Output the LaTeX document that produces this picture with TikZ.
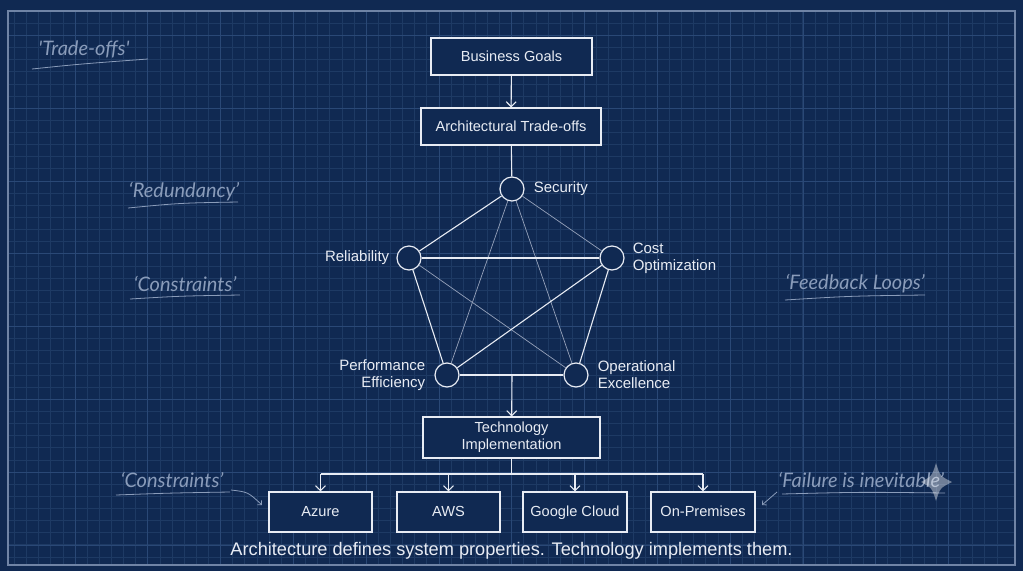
\documentclass[tikz,border=0pt]{standalone}
\usepackage{fontspec}
\setmainfont{Liberation Sans}
\newfontfamily\handfont{Lato}
\usetikzlibrary{arrows.meta,positioning}

\definecolor{bpbg}{RGB}{16,41,82}
\definecolor{bpgrid}{RGB}{30,58,100}
\definecolor{bpmajor}{RGB}{42,72,118}
\definecolor{bpframe}{RGB}{112,132,166}
\definecolor{bpink}{RGB}{232,236,244}
\definecolor{bpthin}{RGB}{150,162,186}
\definecolor{bpnote}{RGB}{138,156,186}

\begin{document}
\begin{tikzpicture}[x=1pt, y=-1pt,
	>={Straight Barb[length=5pt,width=10pt]},
	box/.style={rectangle, draw=bpink, line width=1.1pt, fill=bpbg, text=bpink,
		font=\fontsize{14.6}{17}\selectfont, align=center, inner sep=0pt},
	plat/.style={box, minimum width=103pt, minimum height=40pt, text height=11pt, text depth=3pt},
	pillar/.style={circle, draw=bpink, line width=1.2pt, fill=bpbg, minimum size=24pt, inner sep=0pt},
	tag/.style={text=bpink, font=\fontsize{15}{17}\selectfont, inner sep=0pt},
	link/.style={draw=bpink, line width=1.1pt},
	cross/.style={draw=bpthin, line width=0.7pt},
	note/.style={text=bpnote, font=\handfont\itshape\fontsize{20}{22}\selectfont, inner sep=0pt},
	noteline/.style={draw=bpnote, line width=0.8pt}]

	% paper and grid
	\fill[bpbg] (0,0) rectangle (1023,571);
	\foreach \i in {0,...,81}
		\draw[bpgrid, line width=0.6pt] (14.3+12.13*\i,11) -- (14.3+12.13*\i,565);
	\foreach \i in {0,...,44}
		\draw[bpgrid, line width=0.6pt] (8,23.2+12.13*\i) -- (1015,23.2+12.13*\i);
	\foreach \i in {0,...,12}
		\draw[bpmajor, line width=0.8pt] (75+72.8*\i,11) -- (75+72.8*\i,565);
	\foreach \i in {0,...,7}
		\draw[bpmajor, line width=0.8pt] (8,35.4+72.8*\i) -- (1015,35.4+72.8*\i);
	\draw[bpframe, line width=1.2pt] (8,11) rectangle (1015,565);

	% top of the flow
	\node[box, minimum width=161pt, minimum height=37pt] (goals) at (511.5,56.5) {Business Goals};
	\node[box, minimum width=180pt, minimum height=37pt] (tradeoffs) at (511,126.5) {Architectural Trade-offs};
	\draw[link, ->] (goals) -- (tradeoffs);

	% pentagon of pillars
	\node[pillar] (sec) at (512,189) {};
	\node[pillar] (rel) at (409,258) {};
	\node[pillar] (cost) at (612,258) {};
	\node[pillar] (perf) at (447,375) {};
	\node[pillar] (ops) at (576,375) {};
	\node[tag, right=9pt of sec] (seclbl) {Security};
	\node[tag, left=7pt of rel] (rellbl) {Reliability};
	\node[tag, right=8pt of cost, align=left] (costlbl) {Cost\\Optimization};
	\node[tag, left=9pt of perf, align=right] (perflbl) {Performance\\Efficiency};
	\node[tag, right=9pt of ops, align=left] (opslbl) {Operational\\Excellence};

	\draw[link] (tradeoffs) -- (sec);
	\draw[cross] (sec) -- (cost);
	\draw[cross] (sec) -- (perf);
	\draw[cross] (sec) -- (ops);
	\draw[cross] (rel) -- (ops);
	\draw[link] (sec) -- (rel);
	\draw[link] (rel) -- (cost);
	\draw[link] (rel) -- (perf);
	\draw[link] (cost) -- (perf);
	\draw[link] (cost) -- (ops);
	\draw[link] (perf) -- (ops);

	% technology
	\coordinate (hub) at (512,375);
	\node[box, minimum width=177pt, minimum height=41pt] (tech) at (511.5,437.5) {Technology\\Implementation};
	\draw[link, ->] (hub) -- (tech);

	\node[plat] (azure) at (320.5,512) {Azure};
	\node[plat] (aws) at (448.5,512) {AWS};
	\node[plat, minimum width=104pt] (gcloud) at (575,512) {Google Cloud};
	\node[plat, minimum width=104pt] (onprem) at (703,512) {On-Premises};
	\coordinate (bus) at (511.5,474);
	\draw[link] (tech) -- (bus);
	\draw[link] (azure.north |- bus) -- (onprem.north |- bus);
	\foreach \p in {azure,aws,gcloud,onprem}
		\draw[link, ->] (\p.north |- bus) -- (\p.north);

	\node[text=bpink, font=\fontsize{18.2}{21}\selectfont, inner sep=0pt] (motto) at (511.5,551)
		{Architecture defines system properties. Technology implements them.};

	% margin notes
	\node[note] (ntrade) at (84,49) {'Trade-offs'};
	\draw[noteline] (32,69) .. controls (80,64) .. (148,59);
	\node[note] (nredund) at (184,192) {‘Redundancy’};
	\draw[noteline] (128,208) .. controls (180,203) .. (238,202);
	\node[note] (nconstr) at (185,284) {‘Constraints’};
	\draw[noteline] (130,299) .. controls (180,296) .. (240,295);
	\node[note] (nfeed) at (855,284) {‘Feedback Loops’};
	\draw[noteline] (785,300) .. controls (850,296) .. (925,295);
	\node[note] (nconstr2) at (172,480) {‘Constraints’};
	\draw[noteline] (116,495) .. controls (170,493) .. (230,492);
	\coordinate (azurehint) at (262,505);
	\draw[noteline, ->, >={Straight Barb[length=3pt,width=6pt]}] (231,490) .. controls (248,492) .. (azurehint);
	\node[note] (nfail) at (861,480) {‘Failure is inevitable’};
	\draw[noteline] (782,494) .. controls (860,492) .. (945,493);
	\coordinate (onpremhint) at (762,505);
	\draw[noteline, ->, >={Straight Barb[length=3pt,width=6pt]}] (777,492) -- (onpremhint);
	\fill[white, opacity=0.4] (936,463) .. controls (940,476) .. (952,482)
		.. controls (940,488) .. (936,501) .. controls (932,488) .. (921,482)
		.. controls (932,476) .. (936,463) -- cycle;
\end{tikzpicture}
\end{document}
